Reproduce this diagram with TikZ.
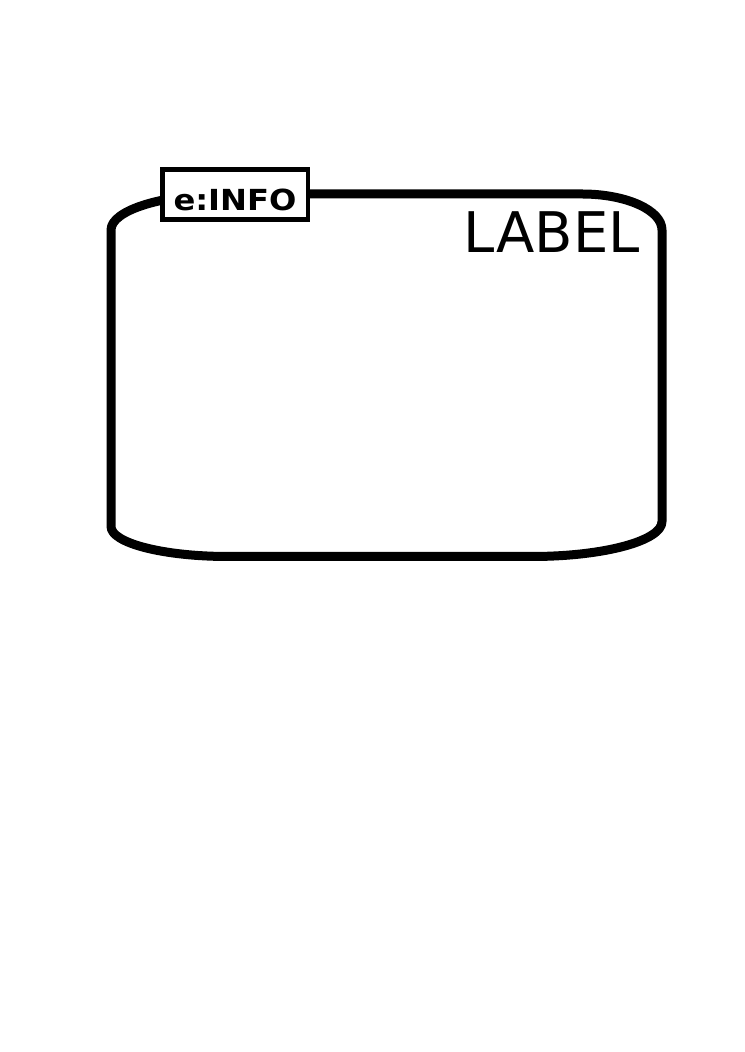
\documentclass[tikz,border=0pt]{standalone}
\usepackage{fontspec}
\setmainfont{DejaVu Sans}
\newfontfamily\infofont{DejaVu Sans Bold}[FakeStretch=1.11]
\usepackage{tikz}
\usetikzlibrary{positioning}

\begin{document}
\begin{tikzpicture}[
    x=0.8pt, y=0.8pt,
    compartment/.style={draw, line width=7.2pt, line join=round},
    infobox/.style={rectangle, draw, fill=white, line width=3.6pt, minimum width=116.4pt, minimum height=39.9pt, inner sep=0pt, text height=24.9pt, text depth=0pt, font=\infofont\fontsize{23.2}{26}\selectfont},
    complabel/.style={inner sep=0pt, anchor=base east, font=\fontsize{44.8}{48}\selectfont},
]
    \useasboundingbox (0,0) rectangle (744,1052);
    % compartment outline
    \draw[compartment] (228,858) -- (582,858)
        arc[start angle=90, end angle=0, x radius=80, y radius=36] -- (662,530.5)
        arc[start angle=0, end angle=-90, x radius=130, y radius=35] -- (228,495.5)
        arc[start angle=270, end angle=180, x radius=117, y radius=30] -- (111,822)
        arc[start angle=180, end angle=90, x radius=117, y radius=36] -- cycle;
    \node[complabel] (label) at (640,799.3) {LABEL};
    \node[infobox] (info) at (235,857.5) {e:INFO};
\end{tikzpicture}
\end{document}
